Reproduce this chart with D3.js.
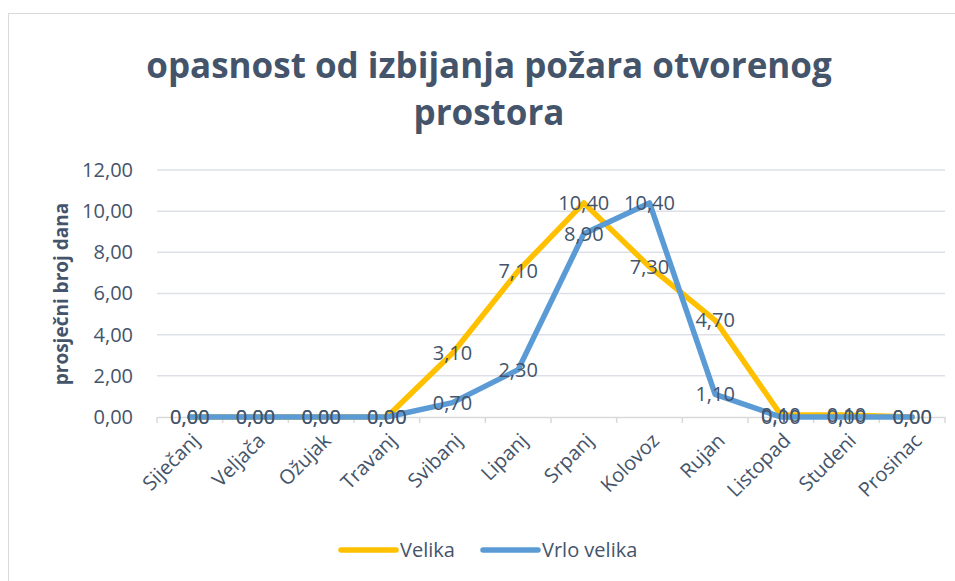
<!DOCTYPE html>
<meta charset="utf-8">
<title>Opasnost od izbijanja požara</title>
<html>
<style>
body { margin: 0; background: #fff; }
text { font-family: "Open Sans", "Noto Sans", sans-serif; }
</style>
<body>
<svg width="955" height="581"></svg>
<script src="https://d3js.org/d3.v7.min.js"></script>
<script>
var months = ["Siječanj", "Veljača", "Ožujak", "Travanj", "Svibanj", "Lipanj",
  "Srpanj", "Kolovoz", "Rujan", "Listopad", "Studeni", "Prosinac"];
var velika = [0, 0, 0, 0, 3.1, 7.1, 10.4, 7.3, 4.7, 0.1, 0.1, 0];
var vrloVelika = [0, 0, 0, 0, 0.7, 2.3, 8.9, 10.4, 1.1, 0, 0, 0];
var yTicks = [0, 2, 4, 6, 8, 10, 12];
var seriesNames = ["Velika", "Vrlo velika"];
var seriesColors = ["#FFC000", "#5B9BD5"];

var svg = d3.select("svg");
var ink = "#44546a";
var fs = 20;
var fmt = function(v) { return d3.format(".2f")(v).replace(".", ","); };

// chart frame
svg.append("rect")
  .attr("x", 8.5).attr("y", 13.5)
  .attr("width", 960).attr("height", 600)
  .attr("fill", "none").attr("stroke", "#d9d9d9");

var x = d3.scaleBand().domain(months).range([157, 945]).padding(0);
var y = d3.scaleLinear().domain([0, 12]).range([417, 170]);

// title
var title = svg.append("text")
  .attr("text-anchor", "middle")
  .attr("fill", ink)
  .attr("font-weight", "bold")
  .attr("font-size", 35);
title.append("tspan").attr("x", 489).attr("y", 78).text("opasnost od izbijanja požara otvorenog");
title.append("tspan").attr("x", 489).attr("y", 125).text("prostora");

// grid
svg.append("g")
  .selectAll("line")
  .data(yTicks.slice(1))
  .enter().append("line")
    .attr("x1", 157).attr("x2", 945)
    .attr("y1", function(d) { return y(d); })
    .attr("y2", function(d) { return y(d); })
    .attr("stroke", "#dde1e7").attr("stroke-width", 1.5);

// y axis
var yAxis = svg.append("g")
  .attr("transform", "translate(157,0)")
  .call(d3.axisLeft(y).tickValues(yTicks).tickFormat(fmt).tickSize(0).tickPadding(24));
yAxis.select(".domain").remove();
yAxis.selectAll("text").attr("fill", ink).attr("font-size", fs)
  .style("font-family", "'Open Sans', sans-serif");

// x axis
var xAxis = svg.append("g")
  .attr("transform", "translate(0," + y(0) + ")")
  .call(d3.axisBottom(x).tickSize(0));
xAxis.select(".domain").attr("stroke", "#d9d9d9").attr("stroke-width", 1.5);
xAxis.selectAll(".tick text")
  .attr("fill", ink).attr("font-size", fs)
  .style("font-family", "'Open Sans', sans-serif")
  .attr("text-anchor", "end")
  .attr("dy", "0.35em")
  .attr("transform", "translate(6,20) rotate(-45)")
  .attr("y", 0).attr("x", 0);
svg.append("g")
  .selectAll("line")
  .data(months.concat(["end"]))
  .enter().append("line")
    .attr("x1", function(d, i) { return i < months.length ? x(d) : x.range()[1]; })
    .attr("x2", function(d, i) { return i < months.length ? x(d) : x.range()[1]; })
    .attr("y1", y(0)).attr("y2", y(0) + 6)
    .attr("stroke", "#d9d9d9").attr("stroke-width", 1.5);

// y axis title
svg.append("text")
  .attr("transform", "translate(68,294) rotate(-90)")
  .attr("text-anchor", "middle")
  .attr("fill", ink)
  .attr("font-weight", "bold")
  .attr("font-size", 19)
  .text("prosječni broj dana");

// lines
var series = [velika, vrloVelika];
var line = d3.line()
  .x(function(d, i) { return x(months[i]) + x.bandwidth() / 2; })
  .y(function(d) { return y(d); });

series.forEach(function(s, k) {
  svg.append("path")
    .datum(s)
    .attr("d", line)
    .attr("fill", "none")
    .attr("stroke", seriesColors[k])
    .attr("stroke-width", 5.5)
    .attr("stroke-linejoin", "round")
    .attr("stroke-linecap", "round");
});

// data labels
series.forEach(function(s) {
  svg.append("g")
    .selectAll("text")
    .data(s)
    .enter().append("text")
      .attr("x", function(d, i) { return x(months[i]) + x.bandwidth() / 2; })
      .attr("y", function(d) { return y(d); })
      .attr("dy", "0.35em")
      .attr("text-anchor", "middle")
      .attr("fill", ink)
      .attr("font-size", fs)
      .text(fmt);
});

// legend
var legend = svg.append("g");
var legX = [341, 483];
seriesNames.forEach(function(n, k) {
  legend.append("line")
    .attr("x1", legX[k]).attr("x2", legX[k] + 55)
    .attr("y1", 550).attr("y2", 550)
    .attr("stroke", seriesColors[k]).attr("stroke-width", 5.5)
    .attr("stroke-linecap", "round");
  legend.append("text")
    .attr("x", legX[k] + 59).attr("y", 550)
    .attr("dy", "0.35em")
    .attr("fill", ink).attr("font-size", fs)
    .text(n);
});
</script>
</body>
</html>
